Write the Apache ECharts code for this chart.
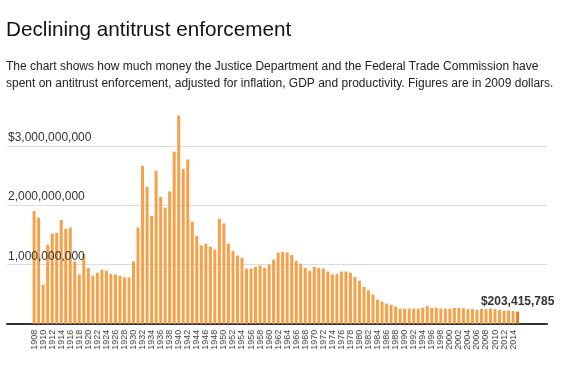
<!DOCTYPE html>
<html>
<head>
<meta charset="utf-8">
<script src="https://cdn.jsdelivr.net/npm/echarts@6/dist/echarts.min.js"></script>
<style>
html,body{margin:0;padding:0;background:#fff;}
#chart{width:563px;height:370px;}
</style>
</head>
<body>
<div id="chart"></div>
<script>
var years = [1908,1909,1910,1911,1912,1913,1914,1915,1916,1917,1918,1919,1920,1921,1922,1923,1924,1925,1926,1927,1928,1929,
1930,1931,1932,1933,1934,1935,1936,1937,1938,1939,1940,1941,1942,1943,1944,1945,1946,1947,1948,1949,
1950,1951,1952,1953,1954,1955,1956,1957,1958,1959,1960,1961,1962,1963,1964,1965,1966,1967,1968,1969,
1970,1971,1972,1973,1974,1975,1976,1977,1978,1979,1980,1981,1982,1983,1984,1985,1986,1987,1988,1989,
1990,1991,1992,1993,1994,1995,1996,1997,1998,1999,2000,2001,2002,2003,2004,2005,2006,2007,2008,2009,
2010,2011,2012,2013,2014,2015];

// spending, billions of 2009 dollars
var spendingBillions = [1.90,1.79,0.66,1.33,1.52,1.53,1.75,1.60,1.62,1.05,0.83,1.18,0.94,0.81,0.86,0.91,0.89,0.84,0.83,0.81,0.78,0.78,
1.05,1.62,2.66,2.31,1.82,2.58,2.14,1.96,2.23,2.90,3.51,2.61,2.77,1.72,1.48,1.32,1.35,1.30,1.25,1.77,
1.69,1.35,1.23,1.15,1.11,0.93,0.93,0.96,0.98,0.94,1.00,1.08,1.20,1.21,1.20,1.16,1.06,1.01,0.94,0.89,
0.96,0.94,0.93,0.88,0.83,0.84,0.88,0.88,0.86,0.79,0.725,0.62,0.56,0.49,0.405,0.37,0.34,0.32,0.29,0.255,
0.255,0.255,0.255,0.255,0.27,0.30,0.27,0.27,0.255,0.255,0.255,0.265,0.265,0.26,0.245,0.245,0.235,0.25,0.245,0.255,
0.245,0.235,0.22,0.22,0.215,0.203415785];

var yTickValues = [1000000000, 2000000000, 3000000000];
var yTickLabels = ['1,000,000,000', '2,000,000,000', '$3,000,000,000'];
var lastLabel = '$203,415,785';

var titleText = 'Declining antitrust enforcement';
var subText = 'The chart shows how much money the Justice Department and the Federal Trade Commission have\nspent on antitrust enforcement, adjusted for inflation, GDP and productivity. Figures are in 2009 dollars.';

var FONT = '"Liberation Sans", Arial, Helvetica, sans-serif';
var BAR = '#f7a047';
var BAR_LAST = '#d6802a';

var lastIdx = years.length - 1;
var data = years.map(function (y, i) {
  var v = spendingBillions[i] * 1e9;
  if (i === lastIdx) {
    return {
      value: [y, v],
      itemStyle: { color: BAR_LAST },
      label: {
        show: true, position: 'top', distance: 4,
        formatter: lastLabel,
        fontFamily: FONT, fontSize: 12, fontWeight: 'bold', color: '#333'
      }
    };
  }
  return [y, v];
});

function yLabel(v) {
  var idx = yTickValues.indexOf(v);
  return idx >= 0 ? yTickLabels[idx] : '';
}

var chart = echarts.init(document.getElementById('chart'), null, { renderer: 'canvas' });
chart.setOption({
  animation: false,
  backgroundColor: '#fff',
  title: [
    { text: titleText, left: 6, top: 18, padding: 0,
      textStyle: { fontFamily: FONT, fontSize: 20.7, fontWeight: 'normal', color: '#111', lineHeight: 24 } },
    { text: subText, left: 6, top: 58, padding: 0,
      textStyle: { fontFamily: FONT, fontSize: 12, fontWeight: 'normal', color: '#222', lineHeight: 17 } }
  ],
  grid: { left: 7, right: 16, top: 86.5, bottom: 46.3, containLabel: false },
  xAxis: {
    type: 'value', min: 1902, max: 2021.5, interval: 2,
    splitLine: { show: false },
    axisTick: { show: false },
    axisLine: { show: true, lineStyle: { color: '#333', width: 2 } },
    axisLabel: {
      rotate: 90, margin: 6, fontFamily: FONT, fontSize: 9, color: '#444',
      showMinLabel: true, showMaxLabel: true,
      formatter: function (v) { return (v >= 1908 && v <= 2014) ? String(v) : ''; }
    }
  },
  yAxis: [
    {
      type: 'value', min: 0, max: 4000000000, interval: 1000000000,
      axisLine: { show: false }, axisTick: { show: false },
      axisLabel: { show: false },
      splitLine: { show: true, lineStyle: { color: ['#dcdcdc','#dcdcdc','#dcdcdc','#dcdcdc','rgba(0,0,0,0)'], width: 1 } }
    },
    {
      type: 'value', min: 0, max: 4000000000, interval: 1000000000, position: 'left', z: 10,
      axisLine: { show: false }, axisTick: { show: false }, splitLine: { show: false },
      axisLabel: {
        inside: true, margin: 1, align: 'left', verticalAlign: 'bottom',
        padding: [0, 0, 1, 0], lineHeight: 14,
        fontFamily: FONT, fontSize: 12, color: '#333',
        formatter: yLabel
      }
    }
  ],
  series: [{
    type: 'bar', yAxisIndex: 0, barWidth: 3,
    itemStyle: { color: BAR },
    data: data
  }]
});
</script>
</body>
</html>
